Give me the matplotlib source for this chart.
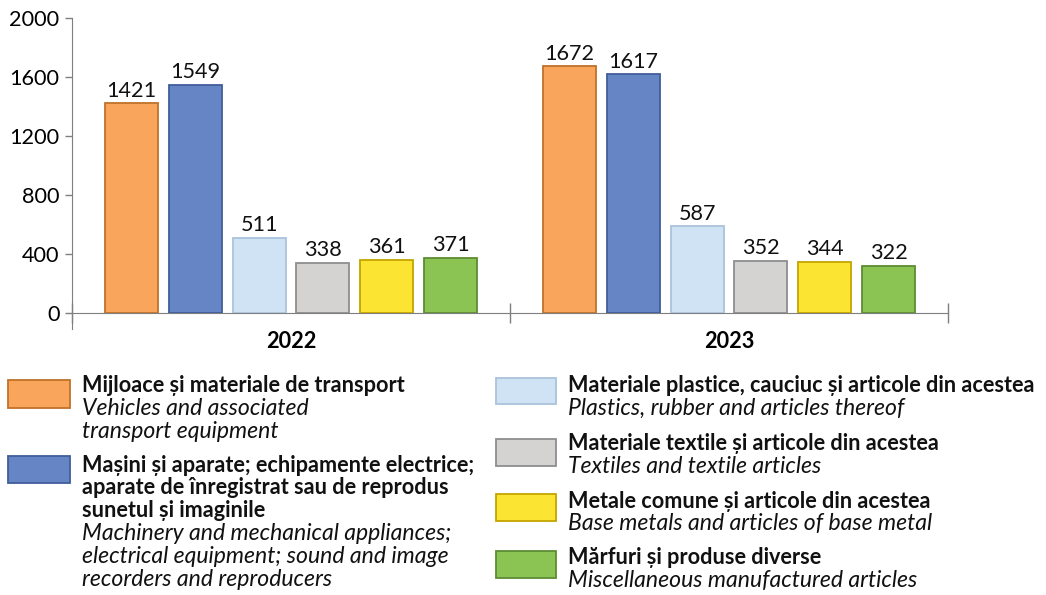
import matplotlib
matplotlib.use("Agg")
import matplotlib.pyplot as plt
from matplotlib.patches import Rectangle
import numpy as np

plt.rcParams['font.family'] = ['Lato', 'DejaVu Sans']

years = ["2022", "2023"]
series_ro = [
    "Mijloace și materiale de transport",
    "Mașini și aparate; echipamente electrice;\naparate de înregistrat sau de reprodus\nsunetul și imaginile",
    "Materiale plastice, cauciuc și articole din acestea",
    "Materiale textile și articole din acestea",
    "Metale comune și articole din acestea",
    "Mărfuri și produse diverse",
]
series_en = [
    "Vehicles and associated\ntransport equipment",
    "Machinery and mechanical appliances;\nelectrical equipment; sound and image\nrecorders and reproducers",
    "Plastics, rubber and articles thereof",
    "Textiles and textile articles",
    "Base metals and articles of base metal",
    "Miscellaneous manufactured articles",
]
values_2022 = [1421, 1549, 511, 338, 361, 371]
values_2023 = [1672, 1617, 587, 352, 344, 322]
y_ticks = [0, 400, 800, 1200, 1600, 2000]

faces = ["#F9A65C", "#6585C5", "#CFE3F4", "#D4D3D1", "#FCE432", "#8CC453"]
edges = ["#C0712B", "#3F5E9A", "#A9C3DC", "#8E8E8E", "#C4A500", "#5C8C33"]

W, H = 1046, 595
fig = plt.figure(figsize=(W / 100, H / 100), dpi=100)
ax = fig.add_axes([72 / W, 1 - 313 / H, 876 / W, 295 / H])

data = np.array([values_2022, values_2023])
x = np.arange(len(years))
n = len(series_ro)
pitch = 0.1457
bw = 0.121
fs = 15.6
fs_it = 16.6
for i in range(n):
    xs = x + (i - (n - 1) / 2) * pitch
    bars = ax.bar(xs, data[:, i], width=bw, color=faces[i], edgecolor=edges[i],
                  linewidth=1.3, zorder=3)
    for b, v in zip(bars, data[:, i]):
        ax.annotate(f"{v}", (b.get_x() + b.get_width() / 2, v), xytext=(0, 2),
                    textcoords="offset points", ha="center", va="bottom",
                    fontsize=fs, color="#111111")

ax.set_xlim(-0.5, 1.5)
ax.set_ylim(0, 2000)
ax.set_yticks(y_ticks)
ax.set_yticklabels([str(t) for t in y_ticks], fontsize=fs)
ax.set_xticks([-0.5, 0.5, 1.5])
ax.set_xticklabels([])
ax.set_xticks(x, minor=True)
ax.set_xticklabels(years, minor=True, fontsize=fs, fontweight="bold")
ax.tick_params(axis="x", which="minor", length=0, pad=13)
ax.tick_params(axis="x", which="major", direction="inout", length=15, color="#7f7f7f", width=1)
ax.tick_params(axis="y", direction="out", length=5, color="#7f7f7f", width=1, pad=4)
for s in ["top", "right"]:
    ax.spines[s].set_visible(False)
ax.spines["left"].set_color("#7f7f7f")
ax.spines["bottom"].set_color("#7f7f7f")
ax.spines["left"].set_bounds(-110, 2000)

# legend (manual)
def fx(px):
    return px / W

def fy(py):
    return 1 - py / H

lh = 22.8
left_entries = [(0, 386, 380, 408), (1, 465, 456, 483)]
right_entries = [(2, 386, 378, 404), (3, 444, 439, 466), (4, 501, 494, 521), (5, 558, 551, 578)]
for entries, px0, px1, tx in [(left_entries, 8, 70, 82), (right_entries, 496, 556, 568)]:
    for idx, ty, p_top, p_bot in entries:
        fig.patches.append(Rectangle((fx(px0), fy(p_bot)), fx(px1 - px0), (p_bot - p_top) / H,
                                     transform=fig.transFigure, facecolor=faces[idx],
                                     edgecolor=edges[idx], linewidth=1.3))
        ro_lines = series_ro[idx].split("\n")
        en_lines = series_en[idx].split("\n")
        k = 0
        for line in ro_lines:
            fig.text(fx(tx), fy(ty + k * lh), line, fontsize=fs, fontweight="bold",
                     ha="left", va="center", color="#111111")
            k += 1
        for line in en_lines:
            fig.text(fx(tx), fy(ty + k * lh), line, fontsize=fs_it, fontstyle="italic",
                     ha="left", va="center", color="#111111")
            k += 1

fig.savefig("out.png", dpi=100)
